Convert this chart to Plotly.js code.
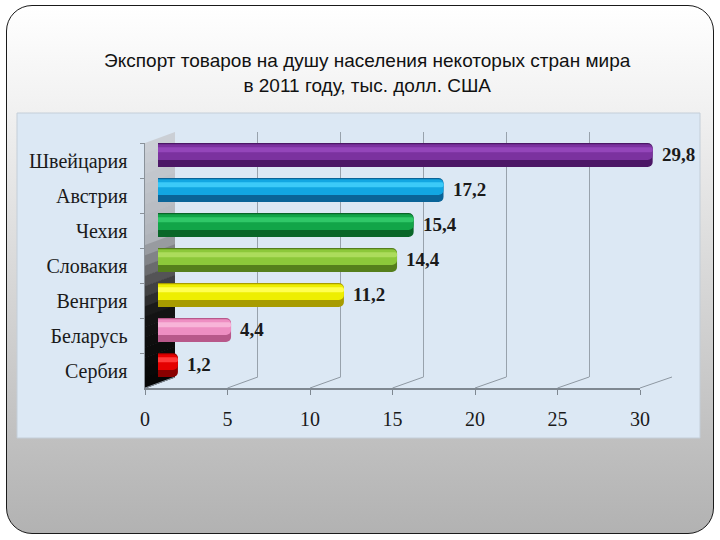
<!DOCTYPE html>
<html>
<head>
<meta charset="utf-8">
<script src="https://cdn.plot.ly/plotly-3.0.1.min.js"></script>
<style>
  html, body { margin: 0; padding: 0; background: #ffffff; }
  #slide {
    position: absolute; left: 6px; top: 5px; width: 706px; height: 527px;
    border: 1.5px solid #1a1a1a; border-radius: 26px;
    background: linear-gradient(to bottom, #ffffff 0%, #f2f2f2 18%, #b2b2b2 100%);
  }
  #chart { position: absolute; left: 0; top: 0; width: 720px; height: 540px; }
</style>
</head>
<body>
<div id="slide"></div>
<div id="chart"></div>
<script>
// ---- data ----
const countries = ['Швейцария', 'Австрия', 'Чехия', 'Словакия', 'Венгрия', 'Беларусь', 'Сербия'];
const exports2011 = [29.8, 17.2, 15.4, 14.4, 11.2, 4.4, 1.2];
const tickValues = [0, 5, 10, 15, 20, 25, 30];
const titleText = 'Экспорт товаров на душу населения некоторых стран мира<br>в 2011 году, тыс. долл. США';

// ---- styles ----
const darkColors  = ['#4c1766', '#0a6498', '#096628', '#557f1c', '#a89c00', '#b8588a', '#8a0000'];
const mainColors  = ['#7b329f', '#12a6e2', '#12a548', '#8cc83a', '#eeee00', '#ee8ec2', '#e40000'];
const lightColors = ['#9446ba', '#3ccaf8', '#30c868', '#acdc5c', '#ffff50', '#f8b4d8', '#ff3a3a'];

const W = 720, H = 540;
const dx = (a, b) => [a / W, b / W];
const dy = (top, bottom) => [1 - bottom / H, 1 - top / H];

// pixel positions of the three x scales (back wall, bars, front axis)
const BACK = [175, 672], BAR = [158, 656], FRONT = [145, 640];
const FLOOR_FRONT = 388, FLOOR_BACK = 377;
const px = (scale, v) => scale[0] + (scale[1] - scale[0]) * v / 30;

const serif = 'Liberation Serif, Times New Roman, serif';

const traces = [
  // helper for back-wall gridlines subplot
  {type: 'scatter', x: exports2011, y: exports2011.map(() => 0.5), xaxis: 'x', yaxis: 'y',
   mode: 'markers', marker: {opacity: 0}, hoverinfo: 'skip', showlegend: false},
  // bars: dark base
  {type: 'bar', orientation: 'h', x: exports2011, y: countries, xaxis: 'x2', yaxis: 'y2',
   width: 0.69, offset: -0.345, marker: {color: darkColors, cornerradius: 5, line: {width: 0}},
   hoverinfo: 'skip', showlegend: false},
  // main colour band
  {type: 'bar', orientation: 'h', x: exports2011, y: countries, xaxis: 'x2', yaxis: 'y2',
   width: 0.45, offset: -0.31, marker: {color: mainColors, cornerradius: 5, line: {width: 0}},
   hoverinfo: 'skip', showlegend: false},
  // highlight
  {type: 'bar', orientation: 'h', x: exports2011, y: countries, xaxis: 'x2', yaxis: 'y2',
   width: 0.14, offset: -0.22, marker: {color: lightColors, cornerradius: 3, line: {width: 0}},
   hoverinfo: 'skip', showlegend: false},
  // helper for front axis / category labels subplot
  {type: 'scatter', x: exports2011, y: countries, xaxis: 'x3', yaxis: 'y3',
   mode: 'markers', marker: {opacity: 0}, hoverinfo: 'skip', showlegend: false}
];

// value labels, placed from the data arrays on the bar axes
const annotations = exports2011.map((v, i) => ({
  x: v, y: countries[i], xref: 'x2', yref: 'y2', xanchor: 'left', yanchor: 'middle',
  xshift: 7, yshift: 1, showarrow: false,
  text: v.toFixed(1).replace('.', ','),
  font: {family: serif, size: 19, color: '#1a1a1a', weight: 'bold'}
}));

// decorative shapes (paper coords)
const shapes = [];
// chart picture background
shapes.push({type: 'rect', xref: 'paper', yref: 'paper', layer: 'below',
  x0: 17 / W, x1: 700 / W, y0: 1 - 438 / H, y1: 1 - 113 / H,
  fillcolor: '#dce8f4', line: {color: '#c4ced8', width: 1}});
// left side wall (parallelogram), vertical gradient in bands
const wallStops = [[140, [206, 210, 216]], [240, [176, 180, 186]], [278, [90, 90, 92]], [315, [20, 20, 20]], [389, [5, 5, 5]]];
function wallColor(y) {
  for (let i = 0; i < wallStops.length - 1; i++) {
    const [y0, c0] = wallStops[i], [y1, c1] = wallStops[i + 1];
    if (y <= y1) {
      const t = Math.max(0, (y - y0) / (y1 - y0));
      return 'rgb(' + c0.map((c, k) => Math.round(c + (c1[k] - c) * t)).join(',') + ')';
    }
  }
  return 'rgb(5,5,5)';
}
const wallTopF = 143, wallTopB = 132;
const nBands = 24;
for (let i = 0; i < nBands; i++) {
  const fa = wallTopF + (FLOOR_FRONT - wallTopF) * i / nBands;
  const fb = wallTopF + (FLOOR_FRONT - wallTopF) * (i + 1) / nBands + 0.6;
  const ba = wallTopB + (FLOOR_BACK - wallTopB) * i / nBands;
  const bb = wallTopB + (FLOOR_BACK - wallTopB) * (i + 1) / nBands + 0.6;
  const P = (x, y) => (x / W) + ',' + (1 - y / H);
  shapes.push({type: 'path', xref: 'paper', yref: 'paper', layer: 'below',
    path: 'M' + P(FRONT[0], fa) + ' L' + P(BACK[0], ba) + ' L' + P(BACK[0], bb) + ' L' + P(FRONT[0], fb) + ' Z',
    fillcolor: wallColor((fa + fb) / 2), line: {width: 0}});
}
// floor depth lines from front ticks to back gridlines
tickValues.forEach(v => {
  shapes.push({type: 'line', xref: 'paper', yref: 'paper', layer: 'below',
    x0: px(FRONT, v) / W, y0: 1 - FLOOR_FRONT / H, x1: px(BACK, v) / W, y1: 1 - FLOOR_BACK / H,
    line: {color: '#8e98a2', width: 1}});
});

const layout = {
  width: W, height: H,
  margin: {l: 0, r: 0, t: 0, b: 0},
  paper_bgcolor: 'rgba(0,0,0,0)', plot_bgcolor: 'rgba(0,0,0,0)',
  separators: ', ',
  barmode: 'overlay',
  showlegend: false,
  title: {text: titleText, x: 0.51, xanchor: 'center', y: 1 - 67 / H, yanchor: 'middle', yref: 'container',
          font: {family: 'Liberation Sans, Arial, sans-serif', size: 19, color: '#111111'}},
  xaxis: {domain: dx(BACK[0], BACK[1]), range: [0, 30], tickvals: tickValues, showticklabels: false,
          showgrid: true, gridcolor: '#98a2ac', gridwidth: 1, zeroline: false, showline: false, ticks: '',
          anchor: 'y', fixedrange: true},
  yaxis: {domain: dy(wallTopB, FLOOR_BACK), range: [0, 1], visible: false, anchor: 'x', fixedrange: true},
  xaxis2: {domain: dx(BAR[0], BAR[1]), range: [0, 30], visible: false, anchor: 'y2', fixedrange: true},
  yaxis2: {domain: dy(137.5, 382.5), type: 'category', categoryorder: 'array', categoryarray: countries,
           range: [6.5, -0.5], visible: false, anchor: 'x2', fixedrange: true},
  xaxis3: {domain: dx(FRONT[0], FRONT[1]), range: [0, 30], tickvals: tickValues, ticks: 'outside', ticklen: 5,
           tickcolor: '#7f8891', showline: true, linecolor: '#7f8891', linewidth: 1.5, showgrid: false,
           zeroline: false, tickfont: {family: serif, size: 20, color: '#1a1a1a'}, ticklabelstandoff: 7,
           anchor: 'y3', fixedrange: true},
  yaxis3: {domain: dy(wallTopF, FLOOR_FRONT), type: 'category', categoryorder: 'array', categoryarray: countries,
           range: [6.5, -0.5], showline: true, linecolor: '#8a929a', linewidth: 1.5, ticks: 'outside',
           tickson: 'boundaries', ticklen: 4, tickcolor: '#8a929a', showgrid: false, zeroline: false,
           tickfont: {family: serif, size: 20, color: '#1a1a1a'}, ticklabelstandoff: 12,
           anchor: 'x3', fixedrange: true},
  shapes: shapes,
  annotations: annotations
};

Plotly.newPlot('chart', traces, layout, {staticPlot: true, displayModeBar: false});
</script>
</body>
</html>
